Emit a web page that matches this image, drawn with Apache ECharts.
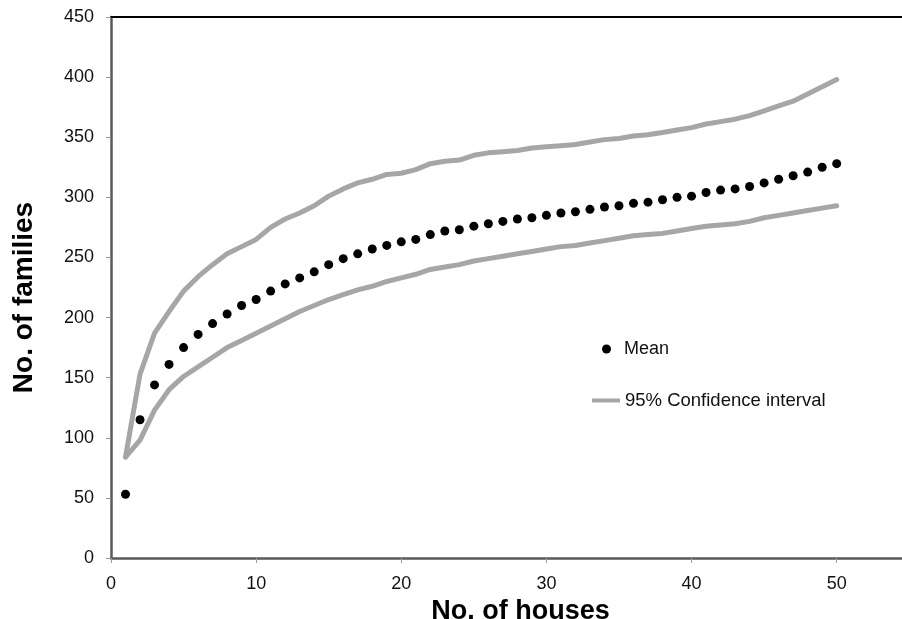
<!DOCTYPE html>
<html>
<head>
<meta charset="utf-8">
<script src="https://cdn.jsdelivr.net/npm/echarts@6/dist/echarts.min.js"></script>
<style>
html,body{margin:0;padding:0;background:#fff;overflow:hidden;}
#chart{width:902px;height:619px;}
</style>
</head>
<body>
<div id="chart"></div>
<script>
const houses = [1,2,3,4,5,6,7,8,9,10,11,12,13,14,15,16,17,18,19,20,21,22,23,24,25,26,27,28,29,30,31,32,33,34,35,36,37,38,39,40,41,42,43,44,45,46,47,48,49,50];
const meanFamilies = [53,115,144,161,175,186,195,203,210,215,222,228,233,238,244,249,253,257,260,263,265,269,272,273,276,278,280,282,283,285,287,288,290,292,293,295,296,298,300,301,304,306,307,309,312,315,318,321,325,328];
const upperCI = [84,153,187,205,222,234,244,253,259,265,275,282,287,293,301,307,312,315,319,320,323,328,330,331,335,337,338,339,341,342,343,344,346,348,349,351,352,354,356,358,361,363,365,368,372,376,380,386,392,398];
const lowerCI = [84,98,123,140,151,159,167,175,181,187,193,199,205,210,215,219,223,226,230,233,236,240,242,244,247,249,251,253,255,257,259,260,262,264,266,268,269,270,272,274,276,277,278,280,283,285,287,289,291,293];
const xTicks = [0,10,20,30,40,50];
const yTicks = [0,50,100,150,200,250,300,350,400,450];
const xTitle = 'No. of houses';
const yTitle = 'No. of families';
const meanName = 'Mean';
const ciName = '95% Confidence interval';

const pairs = (ys) => houses.map((h, i) => [h, ys[i]]);
const FONT = '"Liberation Sans", Arial, sans-serif';

const chart = echarts.init(document.getElementById('chart'), null, {renderer: 'canvas'});
chart.setOption({
  animation: false,
  backgroundColor: '#fff',
  grid: {left: 111, top: 17, right: 0, bottom: 61, containLabel: false, outerBoundsMode: 'none'},
  xAxis: [{
    type: 'value', min: 0, max: 54.5, position: 'bottom',
    name: xTitle, nameLocation: 'middle', nameGap: 33,
    nameTextStyle: {fontFamily: FONT, fontWeight: 'bold', fontSize: 27, color: '#000', padding: [0, 0, 0, 28]},
    axisLine: {show: true, lineStyle: {color: '#595959', width: 2.5}},
    axisTick: {show: true, inside: false, length: 5, customValues: xTicks, lineStyle: {color: '#999', width: 1}},
    axisLabel: {fontFamily: FONT, fontSize: 18, color: '#111', margin: 17, customValues: xTicks,
      formatter: v => String(v)},
    splitLine: {show: false}
  }, {
    type: 'value', min: 0, max: 54.5, position: 'top',
    axisLine: {show: true, onZero: false, lineStyle: {color: '#000', width: 2}},
    axisTick: {show: false}, axisLabel: {show: false}, splitLine: {show: false}
  }],
  yAxis: {
    type: 'value', min: 0, max: 450, interval: 50,
    name: yTitle, nameLocation: 'middle', nameGap: 73, nameRotate: 90,
    nameTextStyle: {fontFamily: FONT, fontWeight: 'bold', fontSize: 28, color: '#000', padding: [0, 20, 0, 0]},
    axisLine: {show: true, lineStyle: {color: '#595959', width: 2.5}},
    axisTick: {show: true, inside: false, length: 5, lineStyle: {color: '#999', width: 1}},
    axisLabel: {fontFamily: FONT, fontSize: 18, color: '#111', margin: 17,
      formatter: v => yTicks.indexOf(v) >= 0 ? String(v) : ''},
    splitLine: {show: false}
  },
  legend: [{
    data: [{name: meanName, icon: 'circle'}],
    left: 602, top: 340, padding: 0, itemWidth: 25, itemHeight: 9,
    textStyle: {fontFamily: FONT, fontSize: 18, color: '#111'}
  }, {
    data: [{name: ciName, icon: 'rect'}],
    left: 592, top: 391, padding: 0, itemWidth: 28, itemHeight: 4,
    textStyle: {fontFamily: FONT, fontSize: 18.5, color: '#111'}
  }],
  series: [{
    name: ciName, type: 'line', data: pairs(upperCI), showSymbol: false, symbol: 'none',
    lineStyle: {color: '#a6a6a6', width: 5, cap: 'round', join: 'round'}, itemStyle: {color: '#a6a6a6'}, z: 2
  }, {
    name: ciName, type: 'line', data: pairs(lowerCI), showSymbol: false, symbol: 'none',
    lineStyle: {color: '#a6a6a6', width: 5, cap: 'round', join: 'round'}, itemStyle: {color: '#a6a6a6'}, z: 2
  }, {
    name: meanName, type: 'scatter', data: pairs(meanFamilies), symbol: 'circle', symbolSize: 9,
    itemStyle: {color: '#000', opacity: 1}, z: 3
  }]
});
</script>
</body>
</html>
